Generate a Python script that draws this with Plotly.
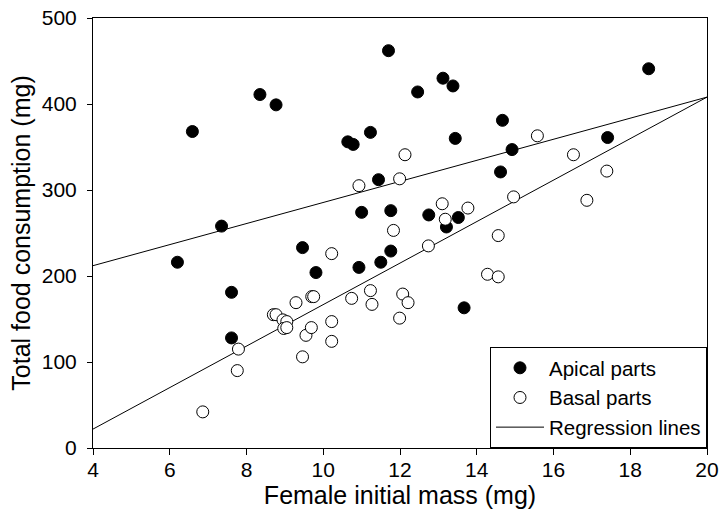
import plotly.graph_objects as go

# Apical parts (filled circles): female initial mass (mg), total food consumption (mg)
apical_mass = [6.20, 6.59, 7.35, 7.61, 7.61, 8.35, 8.77, 9.46, 9.81, 10.64, 10.78,
               11.00, 10.93, 11.23, 11.44, 11.50, 11.70, 11.76, 11.76, 12.46, 12.75,
               13.12, 13.21, 13.38, 13.44, 13.52, 13.67, 14.67, 14.62, 14.92, 17.41, 18.48]
apical_cons = [216, 368, 258, 181, 128, 411, 399, 233, 204, 356, 353,
               274, 210, 367, 312, 216, 462, 276, 229, 414, 271,
               430, 257, 421, 360, 268, 163, 381, 321, 347, 361, 441]

# Basal parts (open circles)
basal_mass = [6.86, 7.76, 7.79, 8.70, 8.77, 8.95, 9.05, 8.97, 9.05, 9.29, 9.46, 9.55,
              9.69, 9.70, 9.75, 10.22, 10.22, 10.22, 10.74, 10.93, 11.23, 11.27, 11.83,
              11.99, 11.99, 12.07, 12.13, 12.21, 12.74, 13.10, 13.18, 13.77, 14.28, 14.56,
              14.56, 14.96, 15.58, 16.52, 16.87, 17.39]
basal_cons = [42, 90, 115, 155, 155, 149, 147, 139, 140, 169, 106, 131,
              140, 176, 176, 226, 147, 124, 174, 305, 183, 167, 253,
              313, 151, 179, 341, 169, 235, 284, 266, 279, 202, 247,
              199, 292, 363, 341, 288, 322]

# Regression lines (endpoints over the x range)
reg_mass = [4, 20]
apical_reg = [212, 408]
basal_reg = [22, 408]

x_ticks = [4, 6, 8, 10, 12, 14, 16, 18, 20]
y_ticks = [0, 100, 200, 300, 400, 500]

FONT = "Liberation Sans, Arial, Helvetica, sans-serif"

fig = go.Figure()
fig.add_trace(go.Scatter(x=reg_mass, y=apical_reg, mode="lines",
                         line=dict(color="black", width=1),
                         name="Regression lines", legendgroup="reg", showlegend=False))
fig.add_trace(go.Scatter(x=reg_mass, y=basal_reg, mode="lines",
                         line=dict(color="black", width=1),
                         name="Regression lines", legendgroup="reg", showlegend=False))
fig.add_trace(go.Scatter(x=apical_mass, y=apical_cons, mode="markers",
                         marker=dict(symbol="circle", size=12, color="black",
                                     line=dict(color="black", width=1)),
                         name="Apical parts", legendrank=1))
fig.add_trace(go.Scatter(x=basal_mass, y=basal_cons, mode="markers",
                         marker=dict(symbol="circle", size=12, color="white",
                                     line=dict(color="black", width=1)),
                         name="Basal parts", legendrank=2))
fig.add_trace(go.Scatter(x=[None], y=[None], mode="lines",
                         line=dict(color="black", width=1),
                         name="Regression lines", legendgroup="reg", legendrank=3))

fig.update_layout(
    width=728, height=521,
    margin=dict(l=93, r=21, t=18, b=73, autoexpand=False),
    paper_bgcolor="white", plot_bgcolor="white",
    font=dict(family=FONT, size=21, color="black"),
    showlegend=True,
    legend=dict(x=1, y=0, xanchor="right", yanchor="bottom",
                bordercolor="black", borderwidth=1, bgcolor="white",
                font=dict(size=20.5), itemwidth=48, tracegroupgap=0,
                traceorder="normal"),
    xaxis=dict(range=[4, 20], tickvals=x_ticks, ticks="outside", ticklen=6,
               tickwidth=1, tickcolor="black", showline=True, linecolor="black",
               linewidth=1, mirror=True, showgrid=False, zeroline=False,
               automargin=False, ticklabelstandoff=-3, ticklabeloverflow="allow",
               title=dict(text="Female initial mass (mg)", standoff=4),
               tickfont=dict(size=21)),
    yaxis=dict(range=[0, 500], tickvals=y_ticks, ticks="outside", ticklen=5,
               tickwidth=1, tickcolor="black", showline=True, linecolor="black",
               linewidth=1, mirror=True, showgrid=False, zeroline=False,
               automargin=False, ticklabelstandoff=6, ticklabeloverflow="allow",
               title=dict(text="Total food consumption (mg)", standoff=4),
               tickfont=dict(size=21)),
)

# remove the default page margin so the 728x521 figure fills the window exactly
fig.write_html("out.html",
               config={"displayModeBar": False},
               post_script="document.body.style.margin='0';document.body.style.overflow='hidden';")
